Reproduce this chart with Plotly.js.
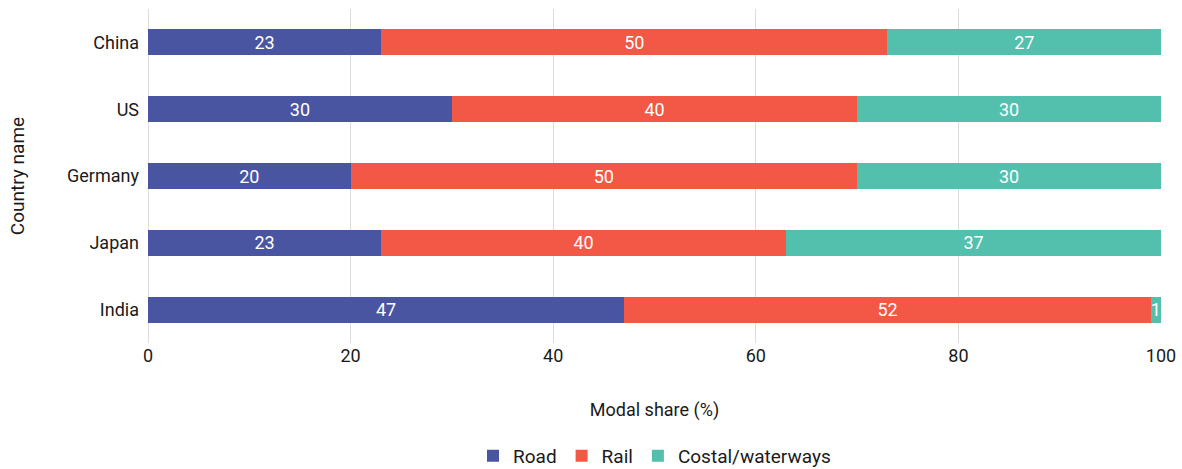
<!DOCTYPE html>
<html>
<head>
<meta charset="utf-8">
<script src="https://cdn.plot.ly/plotly-3.0.1.min.js"></script>
<style>html,body{margin:0;padding:0;background:#fff;}#chart{width:1182px;height:469px;}</style>
</head>
<body>
<div id="chart"></div>
<script>
const countries = ["China", "US", "Germany", "Japan", "India"];
const road = [23, 30, 20, 23, 47];
const rail = [50, 40, 50, 40, 52];
const coastal = [27, 30, 30, 37, 1];
const seriesNames = ["Road", "Rail", "Costal/waterways"];
const seriesColors = ["#4A55A2", "#F25845", "#52C0AD"];
const seriesValues = [road, rail, coastal];
const FONT = "Roboto, 'DejaVu Sans', sans-serif";

const traces = seriesValues.map((vals, i) => ({
  type: "bar",
  orientation: "h",
  name: seriesNames[i],
  y: countries,
  x: vals,
  text: vals.map(String),
  textposition: "inside",
  insidetextanchor: "middle",
  textangle: 0,
  constraintext: "none",
  textfont: {color: "#ffffff", size: 18, family: FONT},
  marker: {color: seriesColors[i]},
  hoverinfo: "x+name"
}));

const layout = {
  width: 1182, height: 469,
  barmode: "stack",
  bargap: 0.61,
  margin: {l: 148, r: 21, t: 9, b: 126, autoexpand: false},
  paper_bgcolor: "#ffffff",
  plot_bgcolor: "#ffffff",
  font: {family: FONT, size: 18, color: "#1a1a1a"},
  xaxis: {
    range: [0, 100],
    dtick: 20,
    showgrid: true,
    gridcolor: "#dddddd",
    gridwidth: 1,
    zeroline: true,
    zerolinecolor: "#dddddd",
    showline: false,
    ticks: "",
    tickfont: {size: 18, color: "#1a1a1a"},
    title: {text: "Modal share (%)", font: {size: 18, color: "#1a1a1a"}, standoff: 38}
  },
  yaxis: {
    autorange: "reversed",
    showgrid: false,
    zeroline: false,
    ticks: "",
    ticklabelstandoff: 8,
    tickfont: {size: 18, color: "#1a1a1a"},
    title: {text: "Country name", font: {size: 19, color: "#1a1a1a"}, standoff: 37}
  },
  legend: {
    orientation: "h",
    x: 0.5, xanchor: "center",
    yref: "container",
    y: 0.028, yanchor: "middle",
    font: {size: 19, color: "#1a1a1a"},
    itemwidth: 30,
    traceorder: "normal"
  },
  showlegend: true
};

Plotly.newPlot("chart", traces, layout, {displayModeBar: false, staticPlot: true});
</script>
</body>
</html>
